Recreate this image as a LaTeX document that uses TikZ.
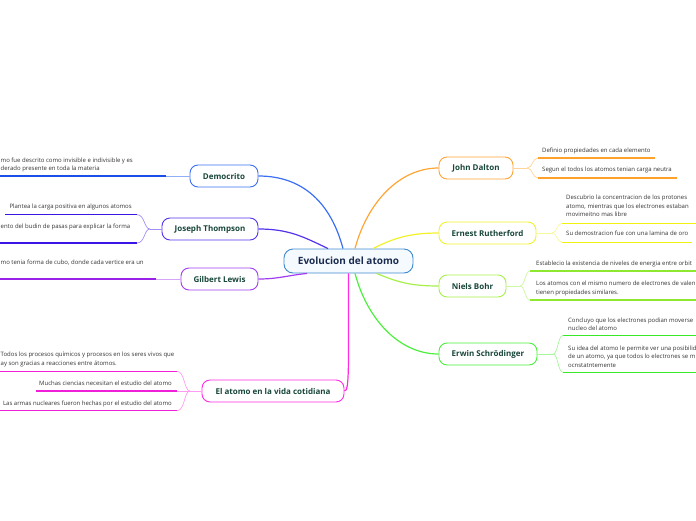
\documentclass[tikz,border=0pt]{standalone}
\usepackage{fontspec}
\setmainfont{Open Sans}
\definecolor{cblue}{HTML}{3B6FF5}\definecolor{ublue}{HTML}{1C4FE8}\definecolor{lblue}{HTML}{8FB0F8}
\definecolor{cind}{HTML}{5533EE}\definecolor{uind}{HTML}{3B14E6}\definecolor{lind}{HTML}{A58FF5}
\definecolor{cpur}{HTML}{A13CF0}\definecolor{upur}{HTML}{9A22E8}\definecolor{lpur}{HTML}{D5A6F8}
\definecolor{cmag}{HTML}{FF2BE6}\definecolor{umag}{HTML}{F01FD8}\definecolor{lmag}{HTML}{FF9BF2}
\definecolor{cora}{HTML}{FFA535}\definecolor{uora}{HTML}{FFA12A}\definecolor{lora}{HTML}{FFD49A}
\definecolor{cyel}{HTML}{F2F22A}\definecolor{uyel}{HTML}{F2F20F}\definecolor{lyel}{HTML}{F8F89A}
\definecolor{cygr}{HTML}{A6F04A}\definecolor{uygr}{HTML}{8EE830}\definecolor{lygr}{HTML}{CDF7A0}
\definecolor{cgrn}{HTML}{4CF03C}\definecolor{ugrn}{HTML}{3AE82A}\definecolor{lgrn}{HTML}{A5F79C}
\definecolor{nodetext}{HTML}{18463A}
\definecolor{leaftext}{HTML}{333333}
\definecolor{centborder}{HTML}{3E8ACC}
\definecolor{centfill}{HTML}{F5FAFF}
\definecolor{centtext}{HTML}{1A2B4F}
\begin{document}
\begin{tikzpicture}[x=1pt,y=-1pt,
  topic/.style={draw, rounded corners=8pt, line width=0.9pt, fill=white, minimum height=22pt, inner sep=0pt, font=\fontsize{8}{9}\selectfont\bfseries, text=nodetext},
  central/.style={draw=centborder, rounded corners=9pt, line width=0.9pt, fill=centfill, minimum height=24pt, minimum width=129pt, inner sep=0pt, font=\fontsize{10}{12}\selectfont\bfseries, text=centtext},
  leaf/.style={inner sep=0pt, font=\fontsize{6}{8.5}\selectfont, text=leaftext, align=left, text depth=0pt},
  uline/.style={line width=1.5pt},
  thin/.style={line width=0.7pt},
  main/.style={line width=1.2pt}]
\useasboundingbox (0,0) rectangle (696,520);
\clip (0,0) rectangle (696,520);

% topics
\node[central] (c) at (348.5,261) {Evolucion del atomo};
\node[topic, draw=cblue, minimum width=68pt] (dem) at (224,176) {Democrito};
\node[topic, draw=cind, minimum width=96pt] (jt) at (210,229) {Joseph Thompson};
\node[topic, draw=cpur, minimum width=77pt] (gl) at (219.5,279) {Gilbert Lewis};
\node[topic, draw=cmag, minimum width=142pt] (ev) at (273,391) {El atomo en la vida cotidiana};
\node[topic, draw=cora, minimum width=74pt] (dal) at (476,168) {John Dalton};
\node[topic, draw=cyel, minimum width=97pt] (rut) at (487.5,233) {Ernest Rutherford};
\node[topic, draw=cygr, minimum width=67pt] (bohr) at (472.5,286) {Niels Bohr};
\node[topic, draw=cgrn, minimum width=98pt] (sch) at (488,354) {Erwin Schrödinger};

% main connectors
\draw[main, cblue] ([xshift=-5.5pt]c.north) .. controls +(-12,-45) and +(45,0) .. (dem.east);
\draw[main, cind] ([xshift=-20.5pt]c.north) .. controls +(-25,-12) and +(30,0) .. (jt.east);
\draw[main, cpur] ([xshift=-41.5pt]c.south) .. controls +(-20,2) and +(20,0) .. (gl.east);
\draw[main, cmag] (c.south) .. controls +(0,95) and +(5,0) .. (ev.east);
\draw[main, cora] ([xshift=6.5pt]c.north) .. controls +(12,-45) and +(-40,0) .. (dal.west);
\draw[main, cyel] ([xshift=24.5pt]c.north) .. controls +(20,-10) and +(-30,0) .. (rut.west);
\draw[main, cygr] ([xshift=28pt]c.south) .. controls +(20,8) and +(-30,0) .. (bohr.west);
\draw[main, cgrn] ([xshift=6.5pt]c.south) .. controls +(12,45) and +(-40,0) .. (sch.west);

% ---------- Democrito
\node[leaf, anchor=south west] (dem1) at (0.5,170.8) {mo fue descrito como invisible e indivisible y es\\derado presente en toda la materia};
\coordinate (demA) at (0,176);
\coordinate (demB) at (166,176);
\draw[uline, ublue] (demA) -- (demB);
\draw[thin, lblue] (demB) -- (dem.west);

% ---------- Joseph Thompson
\coordinate (jtJ) at (150,229);
\node[leaf, anchor=south west] (jt1) at (9.3,208.5) {Plantea la carga positiva en algunos atomos};
\node[leaf, anchor=south west] (jt2) at (0.5,228.5) {ento del budin de pasas para explicar la forma};
\coordinate (jt1a) at (5,214.7); \coordinate (jt1b) at (137,214.7);
\coordinate (jt2a) at (0,243); \coordinate (jt2b) at (137,243);
\draw[uline, uind] (jt1a) -- (jt1b);
\draw[uline, uind] (jt2a) -- (jt2b);
\draw[thin, lind] (jt1b) .. controls +(8,0) and +(-6,0) .. (jtJ);
\draw[thin, lind] (jt2b) .. controls +(8,0) and +(-6,0) .. (jtJ);
\draw[thin, lind] (jtJ) -- (jt.west);

% ---------- Gilbert Lewis
\node[leaf, anchor=south west] (gl1) at (0.5,264.5) {mo tenia forma de cubo, donde cada vertice era un};
\coordinate (glA) at (0,279); \coordinate (glB) at (156,279);
\draw[uline, upur] (glA) -- (glB);
\draw[thin, lpur] (glB) -- (gl.west);

% ---------- El atomo en la vida cotidiana
\coordinate (evJ) at (190,391);
\node[leaf, anchor=south west] (ev1) at (0.5,365.5) {Todos los procesos químicos y procesos en los seres vivos que\\ay son gracias a reacciones entre átomos.};
\node[leaf, anchor=south east] (ev2) at (172,385.5) {Muchas ciencias necesitan el estudio del atomo};
\node[leaf, anchor=south east] (ev3) at (172,405.8) {Las armas nucleares fueron hechas por el estudio del atomo};
\coordinate (ev1a) at (0,371.3); \coordinate (ev1b) at (177,371.3);
\coordinate (ev2a) at (36,391); \coordinate (ev2b) at (177,391);
\coordinate (ev3a) at (0,410.7); \coordinate (ev3b) at (177,410.7);
\draw[uline, umag] (ev1a) -- (ev1b);
\draw[uline, umag] (ev2a) -- (ev2b);
\draw[uline, umag] (ev3a) -- (ev3b);
\draw[thin, lmag] (ev1b) .. controls +(8,0) and +(-6,0) .. (evJ);
\draw[thin, lmag] (ev2b) -- (evJ);
\draw[thin, lmag] (ev3b) .. controls +(8,0) and +(-6,0) .. (evJ);
\draw[thin, lmag] (evJ) -- (ev.west);

% ---------- John Dalton
\coordinate (dalJ) at (527,168);
\node[leaf, anchor=south west] (dal1) at (542,152.5) {Definio propiedades en cada elemento};
\node[leaf, anchor=south west] (dal2) at (542,172.1) {Segun el todos los atomos tenian carga neutra};
\coordinate (dal1a) at (538,158); \coordinate (dal1b) at (655,158);
\coordinate (dal2a) at (538,178); \coordinate (dal2b) at (677,178);
\draw[uline, uora] (dal1a) -- (dal1b);
\draw[uline, uora] (dal2a) -- (dal2b);
\draw[thin, lora] (dal.east) -- (dalJ);
\draw[thin, lora] (dalJ) .. controls +(6,0) and +(-6,0) .. (dal1a);
\draw[thin, lora] (dalJ) .. controls +(6,0) and +(-6,0) .. (dal2a);

% ---------- Ernest Rutherford
\coordinate (rutJ) at (552,233);
\node[leaf, anchor=south west] (rut1) at (566,217.1) {Descubrio la concentracion de los protones\\atomo, mientras que los electrones estaban\\movimeitno mas libre};
\node[leaf, anchor=south west] (rut2) at (566,235.5) {Su demostracion fue con una lamina de oro};
\coordinate (rut1a) at (562,223.3); \coordinate (rut1b) at (700,223.3);
\coordinate (rut2a) at (562,242.3); \coordinate (rut2b) at (692,242.3);
\draw[uline, uyel] (rut1a) -- (rut1b);
\draw[uline, uyel] (rut2a) -- (rut2b);
\draw[thin, lyel] (rut.east) -- (rutJ);
\draw[thin, lyel] (rutJ) .. controls +(5,0) and +(-5,0) .. (rut1a);
\draw[thin, lyel] (rutJ) .. controls +(5,0) and +(-5,0) .. (rut2a);

% ---------- Niels Bohr
\coordinate (bohrJ) at (520,286);
\node[leaf, anchor=south west] (bohr1) at (536,265.8) {Establecio la existencia de niveles de energia entre orbit};
\node[leaf, anchor=south west] (bohr2) at (536,294.5) {Los atomos con el mismo numero de electrones de valen\\tienen propiedades similares.};
\coordinate (bohr1a) at (530,271); \coordinate (bohr1b) at (700,271);
\coordinate (bohr2a) at (530,300); \coordinate (bohr2b) at (700,300);
\draw[uline, uygr] (bohr1a) -- (bohr1b);
\draw[uline, uygr] (bohr2a) -- (bohr2b);
\draw[thin, lygr] (bohr.east) -- (bohrJ);
\draw[thin, lygr] (bohrJ) .. controls +(5,0) and +(-5,0) .. (bohr1a);
\draw[thin, lygr] (bohrJ) .. controls +(5,0) and +(-5,0) .. (bohr2a);

% ---------- Erwin Schrodinger
\coordinate (schJ) at (553,354);
\node[leaf, anchor=south west] (sch1) at (568,330.8) {Concluyo que los electrones podian moverse\\nucleo del atomo};
\node[leaf, anchor=south west] (sch2) at (568,367.5) {Su idea del atomo le permite ver una posibilid\\de un atomo, ya que todos lo electrones se m\\ocnstatntemente};
\coordinate (sch1a) at (563,335.3); \coordinate (sch1b) at (700,335.3);
\coordinate (sch2a) at (563,372.3); \coordinate (sch2b) at (700,372.3);
\draw[uline, ugrn] (sch1a) -- (sch1b);
\draw[uline, ugrn] (sch2a) -- (sch2b);
\draw[thin, lgrn] (sch.east) -- (schJ);
\draw[thin, lgrn] (schJ) .. controls +(5,0) and +(-5,0) .. (sch1a);
\draw[thin, lgrn] (schJ) .. controls +(5,0) and +(-5,0) .. (sch2a);
\end{tikzpicture}
\end{document}
